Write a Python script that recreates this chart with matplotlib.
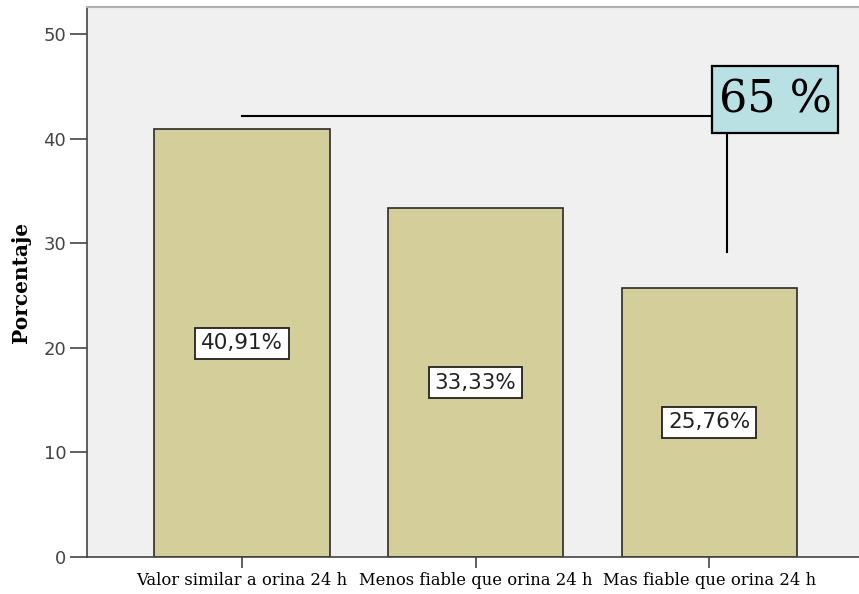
import matplotlib
matplotlib.use("Agg")
import matplotlib.pyplot as plt
from matplotlib.patches import Rectangle
import numpy as np

# datos
categorias = ["Valor similar a orina 24 h", "Menos fiable que orina 24 h", "Mas fiable que orina 24 h"]
porcentajes = [40.91, 33.33, 25.76]
etiquetas = ["40,91%", "33,33%", "25,76%"]
y_ticks = [0, 10, 20, 30, 40, 50]

# llamada "65 %"
texto_llamada = "65 %"
llamada_y = 42.2
caja_x0, caja_x1 = 2.013, 2.552
caja_y0, caja_y1 = 40.53, 46.94
llamada_x_vertical = 2.077
llamada_y_fin = 29.2

color_barra = "#D3CE9A"
color_fondo = "#F0F0F0"

fig = plt.figure(figsize=(8.59, 5.94), dpi=100)
ax = fig.add_axes([87 / 859, 37 / 594, 1 - 87 / 859, 550 / 594])
ax.set_facecolor(color_fondo)

x = np.arange(len(categorias))
ax.bar(x, porcentajes, width=0.75, color=color_barra, edgecolor="#2b2b2b", linewidth=1.2, zorder=2)

for xi, val, lab in zip(x, porcentajes, etiquetas):
    ax.text(xi, val / 2, lab, ha="center", va="center", fontsize=15.5, color="#222222",
            family="DejaVu Sans", zorder=4,
            bbox=dict(boxstyle="square,pad=0.26", facecolor="white", edgecolor="#222222", linewidth=1.3))

# lineas y caja de la llamada
ax.plot([x[0], caja_x0], [llamada_y, llamada_y], color="black", linewidth=1.5, zorder=3)
ax.plot([llamada_x_vertical, llamada_x_vertical], [caja_y0, llamada_y_fin],
        color="black", linewidth=1.5, zorder=3)
ax.add_patch(Rectangle((caja_x0, caja_y0), caja_x1 - caja_x0, caja_y1 - caja_y0,
                       facecolor="#B9E0E3", edgecolor="black", linewidth=1.6, zorder=5))
ax.text((caja_x0 + caja_x1) / 2, (caja_y0 + caja_y1) / 2, texto_llamada, ha="center", va="center",
        fontsize=32, family="DejaVu Serif", color="black", zorder=6)

ax.set_xlim(-0.664, 2.642)
ax.set_ylim(0, 52.6)
ax.set_xticks(x)
ax.set_xticklabels(categorias, family="DejaVu Serif", fontsize=11.8, color="black")
ax.set_yticks(y_ticks)
ax.set_yticklabels([str(v) for v in y_ticks], fontsize=13, color="#444444")
ax.tick_params(axis="y", length=12, width=1.2, color="#444444", pad=3)
ax.tick_params(axis="x", length=8, width=1.2, color="#444444", pad=3)

ax.set_ylabel("Porcentaje", family="DejaVu Serif", fontweight="bold", fontsize=14.5, labelpad=9)

ax.spines["right"].set_visible(False)
ax.spines["top"].set_color("#B0B0B0")
ax.spines["top"].set_linewidth(1.5)
ax.spines["left"].set_color("#444444")
ax.spines["left"].set_linewidth(1.2)
ax.spines["bottom"].set_color("#444444")
ax.spines["bottom"].set_linewidth(1.2)

fig.savefig("out.png", dpi=100)
